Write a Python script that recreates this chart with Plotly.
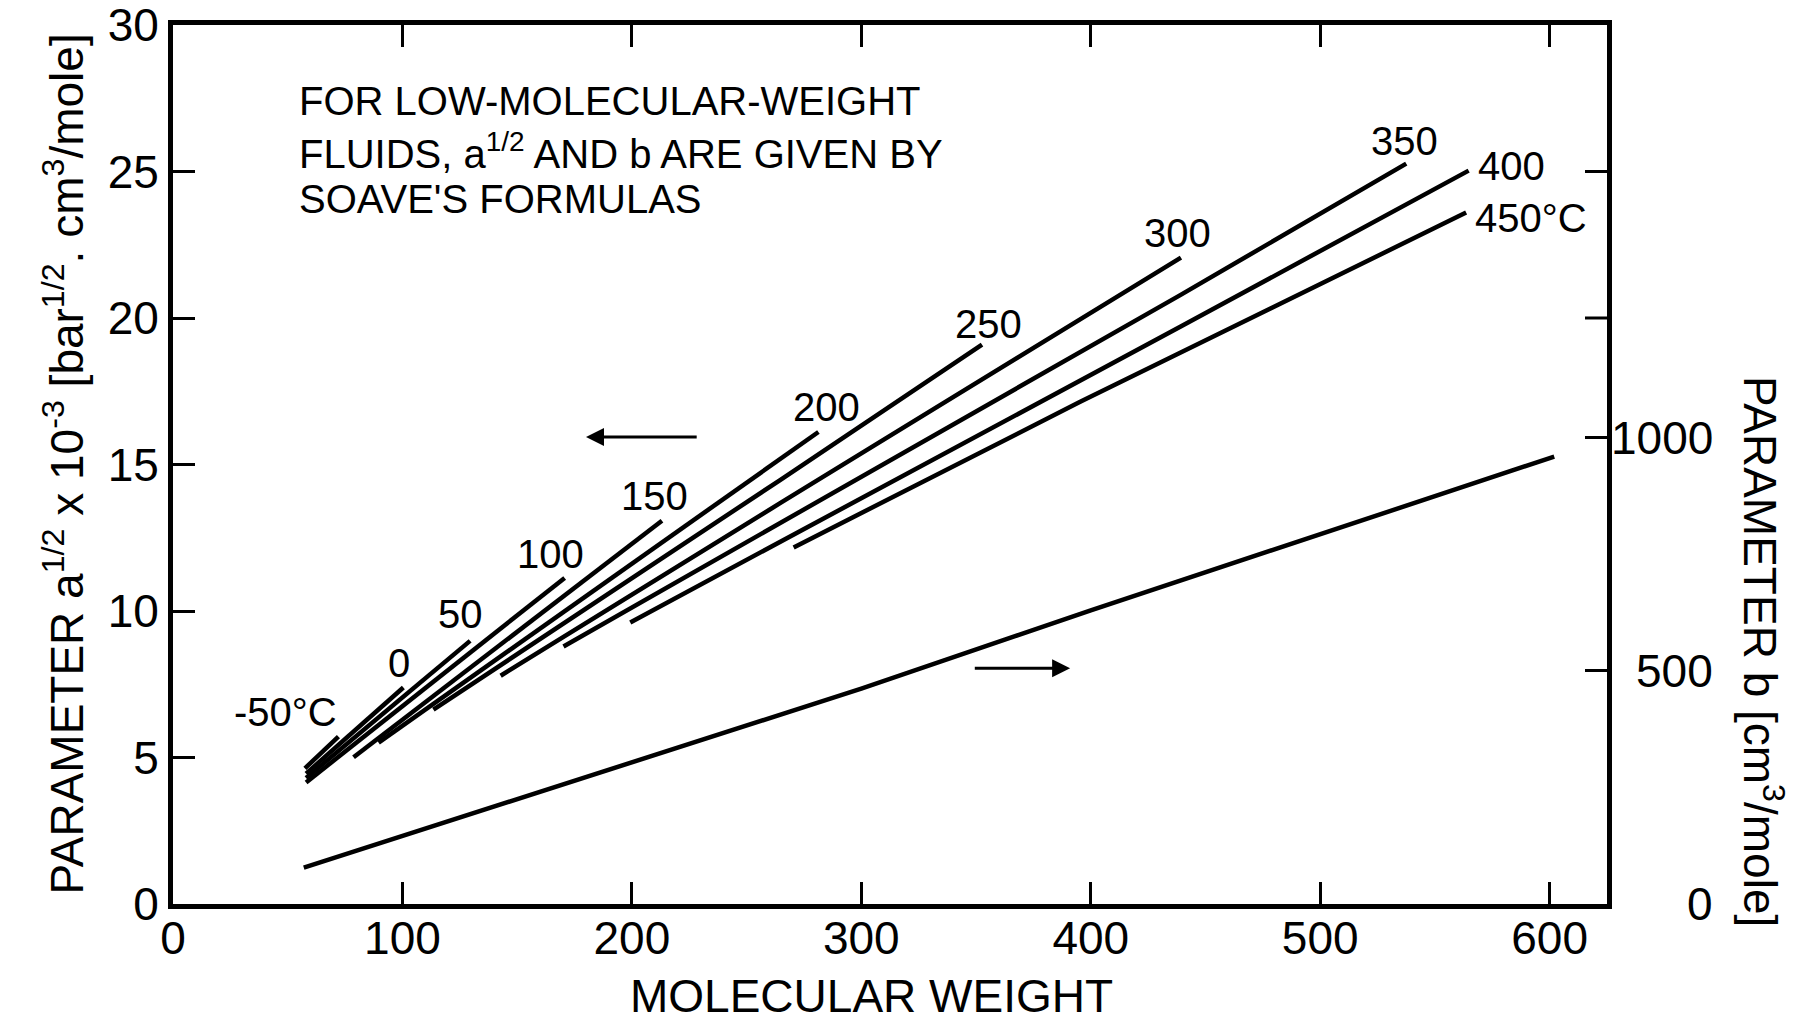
import plotly.graph_objects as go

# ---- data (molecular weight vs a^1/2 x 10^-3) ----
temp_labels = ["-50°C", "0", "50", "100", "150", "200", "250", "300", "350", "400", "450°C"]

mw_m50 = [57.5, 72.1]
a_m50 = [4.63, 5.71]
mw_0 = [58.0, 100.4]
a_0 = [4.45, 7.39]
mw_50 = [58.0, 129.5]
a_50 = [4.30, 8.98]
mw_100 = [58.0, 170.7]
a_100 = [4.15, 11.13]
mw_150 = [78.7, 213.1]
a_150 = [5.01, 13.08]
mw_200 = [89.6, 264.6, 281.3]
a_200 = [5.51, 15.21, 16.11]
mw_250 = [113.5, 264.6, 352.6]
a_250 = [6.63, 14.47, 19.09]
mw_300 = [142.8, 264.6, 439.3]
a_300 = [7.79, 13.68, 22.06]
mw_350 = [170.2, 264.6, 439.0, 537.5]
a_350 = [8.79, 12.99, 20.78, 25.27]
mw_400 = [199.3, 264.6, 439.0, 564.7]
a_400 = [9.61, 12.35, 19.70, 25.03]
mw_450 = [270.5, 395.4, 563.6]
a_450 = [12.17, 17.14, 23.60]

# parameter b (right axis)
mw_b = [57, 200, 300, 400, 535, 602]
b_vals = [78, 305, 462, 630, 852, 960]

x_ticks = [0, 100, 200, 300, 400, 500, 600]
y_ticks = [0, 5, 10, 15, 20, 25, 30]
b_ticks = [0, 500, 1000]
b_tick_marks = [500, 1000]
right_a_ticks = [20, 25]

series = [(mw_m50, a_m50), (mw_0, a_0), (mw_50, a_50), (mw_100, a_100),
          (mw_150, a_150), (mw_200, a_200), (mw_250, a_250), (mw_300, a_300),
          (mw_350, a_350), (mw_400, a_400), (mw_450, a_450)]

# label placement relative to each curve's end (pixels): (xshift, yshift, xanchor)
label_offsets = [(-53, 25, "center"), (-4, 24, "center"), (-10, 27, "center"),
                 (-14, 24, "center"), (-7, 25, "center"), (8, 25, "center"),
                 (6, 21, "center"), (-3, 25, "center"), (-2, 23, "center"),
                 (7, 5, "left"), (7, -5, "left")]

FONT = "Liberation Sans, Arial, Helvetica, sans-serif"
LW = 4.5

fig = go.Figure()
for xs, ys in series:
    fig.add_trace(go.Scatter(x=xs, y=ys, mode="lines",
                             line=dict(color="black", width=LW),
                             hoverinfo="skip", showlegend=False))
fig.add_trace(go.Scatter(x=mw_b, y=b_vals, mode="lines", yaxis="y2",
                         line=dict(color="black", width=LW),
                         hoverinfo="skip", showlegend=False))

annotations = []
for (xs, ys), lab, (dx, dy, anc) in zip(series, temp_labels, label_offsets):
    annotations.append(dict(x=xs[-1], y=ys[-1], xref="x", yref="y", text=lab,
                            showarrow=False, xshift=dx, yshift=dy, xanchor=anc,
                            yanchor="middle", font=dict(size=40, family=FONT, color="black")))

# right-axis tick labels (right aligned)
for v in b_ticks:
    annotations.append(dict(x=1.0753, y=v, xref="paper", yref="y2", text=str(v),
                            showarrow=False, xanchor="right", yanchor="middle",
                            font=dict(size=46, family=FONT, color="black")))

# text block
text_lines = ["FOR LOW-MOLECULAR-WEIGHT",
              "FLUIDS, a<sup>1/2</sup> AND b ARE GIVEN BY",
              "SOAVE'S FORMULAS"]
text_y = [0.9136, 0.8567, 0.8020]
for t, yy in zip(text_lines, text_y):
    annotations.append(dict(x=0.0865, y=yy, xref="paper", yref="paper", text=t,
                            showarrow=False, xanchor="left", yanchor="middle",
                            font=dict(size=40, family=FONT, color="black")))

# arrows
annotations.append(dict(x=180.0, y=15.94, ax=228.9, ay=15.94, xref="x", yref="y",
                        axref="x", ayref="y", text="", showarrow=True,
                        arrowhead=2, arrowsize=1.2, arrowwidth=3, arrowcolor="black"))
annotations.append(dict(x=391.0, y=8.05, ax=348.8, ay=8.05, xref="x", yref="y",
                        axref="x", ayref="y", text="", showarrow=True,
                        arrowhead=2, arrowsize=1.2, arrowwidth=3, arrowcolor="black"))

# axis titles
annotations.append(dict(x=0.4868, y=-0.1045, xref="paper", yref="paper",
                        text="MOLECULAR WEIGHT", showarrow=False,
                        xanchor="center", yanchor="middle",
                        font=dict(size=46, family=FONT, color="black")))
annotations.append(dict(x=-0.0767, y=0.5, xref="paper", yref="paper",
                        text="PARAMETER a<sup>1/2</sup> x 10<sup>-3</sup> [bar<sup>1/2</sup>. cm<sup>3</sup>/mole]",
                        showarrow=False, textangle=-90,
                        xanchor="center", yanchor="middle",
                        font=dict(size=46, family=FONT, color="black")))
annotations.append(dict(x=1.1088, y=0.2878, xref="paper", yref="paper",
                        text="PARAMETER b [cm<sup>3</sup>/mole]",
                        showarrow=False, textangle=90,
                        xanchor="center", yanchor="middle",
                        font=dict(size=46, family=FONT, color="black")))

shapes = []
for v in right_a_ticks:
    shapes.append(dict(type="line", xref="paper", yref="y", x0=1.0, x1=1.0 - 22 / 1434,
                       y0=v, y1=v, line=dict(color="black", width=3)))

axis_common = dict(showgrid=False, zeroline=False, ticks="inside", ticklen=22,
                   tickwidth=3, tickcolor="black", showline=True, linewidth=5,
                   linecolor="black", automargin=False,
                   tickfont=dict(size=46, family=FONT, color="black"))

fig.update_layout(
    width=1806, height=1024,
    margin=dict(l=173, r=199, t=25, b=120, autoexpand=False),
    paper_bgcolor="white", plot_bgcolor="white",
    showlegend=False, hovermode=False,
    xaxis=dict(range=[0, 625], tickvals=x_ticks, mirror="ticks",
               ticklabelstandoff=-10, **axis_common),
    yaxis=dict(range=[0, 30], tickvals=y_ticks, ticklabeloverflow="allow", **axis_common),
    yaxis2=dict(range=[0, 1886], tickvals=b_tick_marks, overlaying="y", side="right",
                showticklabels=False, **axis_common),
    annotations=annotations,
    shapes=shapes,
)

fig.write_html("out.html", config={"displayModeBar": False},
               post_script="document.body.style.margin='0px';")
